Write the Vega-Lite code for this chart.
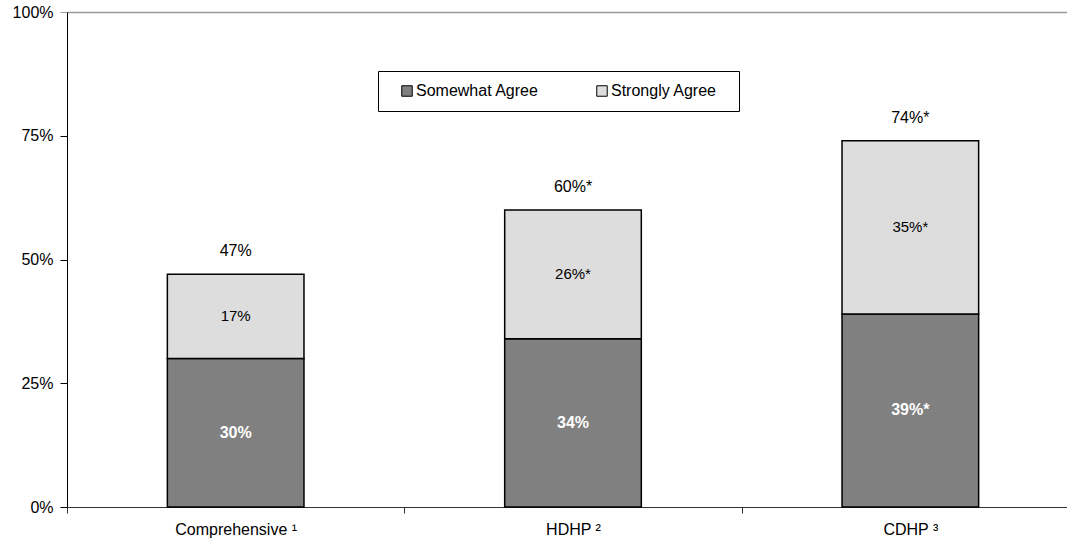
{
  "$schema": "https://vega.github.io/schema/vega-lite/v6.json",
  "width": 999,
  "height": 495,
  "autosize": {"type": "none"},
  "padding": {"left": 67, "top": 12, "right": 1, "bottom": 39},
  "background": "white",
  "config": {"font": "Liberation Sans", "view": {"stroke": null}},
  "datasets": {
    "segments": [
      {"plan": "Comprehensive", "segment": "Somewhat Agree", "order": 1, "value": 0.30, "label": "30%"},
      {"plan": "Comprehensive", "segment": "Strongly Agree", "order": 2, "value": 0.17, "label": "17%"},
      {"plan": "HDHP", "segment": "Somewhat Agree", "order": 1, "value": 0.34, "label": "34%"},
      {"plan": "HDHP", "segment": "Strongly Agree", "order": 2, "value": 0.26, "label": "26%*"},
      {"plan": "CDHP", "segment": "Somewhat Agree", "order": 1, "value": 0.39, "label": "39%*"},
      {"plan": "CDHP", "segment": "Strongly Agree", "order": 2, "value": 0.35, "label": "35%*"}
    ],
    "totals": [
      {"plan": "Comprehensive", "total": 0.47, "label": "47%"},
      {"plan": "HDHP", "total": 0.60, "label": "60%*"},
      {"plan": "CDHP", "total": 0.74, "label": "74%*"}
    ]
  },
  "layer": [
    {
      "data": {"name": "segments"},
      "mark": {"type": "bar", "width": {"band": 0.405}, "stroke": "black", "strokeWidth": 1.5},
      "encoding": {
        "x": {
          "field": "plan", "type": "nominal", "sort": ["Comprehensive", "HDHP", "CDHP"],
          "scale": {"paddingInner": 0, "paddingOuter": 0, "range": [0, 1012]},
          "axis": {
            "title": null, "tickBand": "extent", "labelAngle": 0, "labelFontSize": 16, "labelColor": "black",
            "domainColor": "#333333", "tickColor": "#333333", "tickSize": 6, "labelPadding": 8,
            "labelExpr": "datum.label == 'Comprehensive' ? 'Comprehensive \u00b9' : datum.label == 'HDHP' ? 'HDHP \u00b2' : datum.label == 'CDHP' ? 'CDHP \u00b3' : ''"
          }
        },
        "y": {
          "field": "value", "type": "quantitative", "stack": "zero",
          "scale": {"domain": [0, 1], "nice": false},
          "axis": {
            "title": null, "format": ".0%", "values": [0, 0.25, 0.5, 0.75, 1],
            "grid": true, "gridColor": "#999999", "gridWidth": 1.5,
            "gridOpacity": {"condition": {"test": "datum.value === 1", "value": 1}, "value": 0},
            "domainColor": "black",
            "tickColor": {"condition": {"test": "datum.value === 1", "value": "#999999"}, "value": "black"},
            "tickSize": 7, "labelPadding": 7, "labelFontSize": 16, "labelColor": "black"
          }
        },
        "color": {
          "field": "segment", "type": "nominal",
          "scale": {"domain": ["Somewhat Agree", "Strongly Agree"], "range": ["#808080", "#dddddd"]},
          "legend": {
            "orient": "none", "legendX": 311, "legendY": 59, "direction": "horizontal",
            "title": "\u00a0", "titleOrient": "right", "titlePadding": 10, "titleFontSize": 16,
            "strokeColor": "black", "fillColor": "white", "padding": 12,
            "symbolType": "square", "symbolSize": 110, "symbolStrokeColor": "black", "symbolStrokeWidth": 1,
            "labelFontSize": 16, "labelColor": "black", "columnPadding": 46, "symbolOffset": 9, "labelOffset": 1
          }
        },
        "order": {"field": "order", "type": "quantitative"}
      }
    },
    {
      "data": {"name": "segments"},
      "mark": {"type": "text", "fontSize": 16, "fontWeight": "bold", "color": "white", "baseline": "middle"},
      "encoding": {
        "x": {"field": "plan", "type": "nominal", "sort": ["Comprehensive", "HDHP", "CDHP"]},
        "y": {"field": "value", "type": "quantitative", "stack": "zero", "bandPosition": 0.5},
        "detail": {"field": "segment"},
        "order": {"field": "order", "type": "quantitative"},
        "text": {"condition": {"test": "datum.segment === 'Somewhat Agree'", "field": "label"}, "value": ""}
      }
    },
    {
      "data": {"name": "segments"},
      "mark": {"type": "text", "fontSize": 15, "color": "black", "baseline": "middle"},
      "encoding": {
        "x": {"field": "plan", "type": "nominal", "sort": ["Comprehensive", "HDHP", "CDHP"]},
        "y": {"field": "value", "type": "quantitative", "stack": "zero", "bandPosition": 0.5},
        "detail": {"field": "segment"},
        "order": {"field": "order", "type": "quantitative"},
        "text": {"condition": {"test": "datum.segment === 'Strongly Agree'", "field": "label"}, "value": ""}
      }
    },
    {
      "data": {"name": "totals"},
      "mark": {"type": "text", "fontSize": 16, "color": "black", "baseline": "middle", "dy": -23},
      "encoding": {
        "x": {"field": "plan", "type": "nominal", "sort": ["Comprehensive", "HDHP", "CDHP"]},
        "y": {"field": "total", "type": "quantitative"},
        "text": {"field": "label"}
      }
    }
  ]
}
